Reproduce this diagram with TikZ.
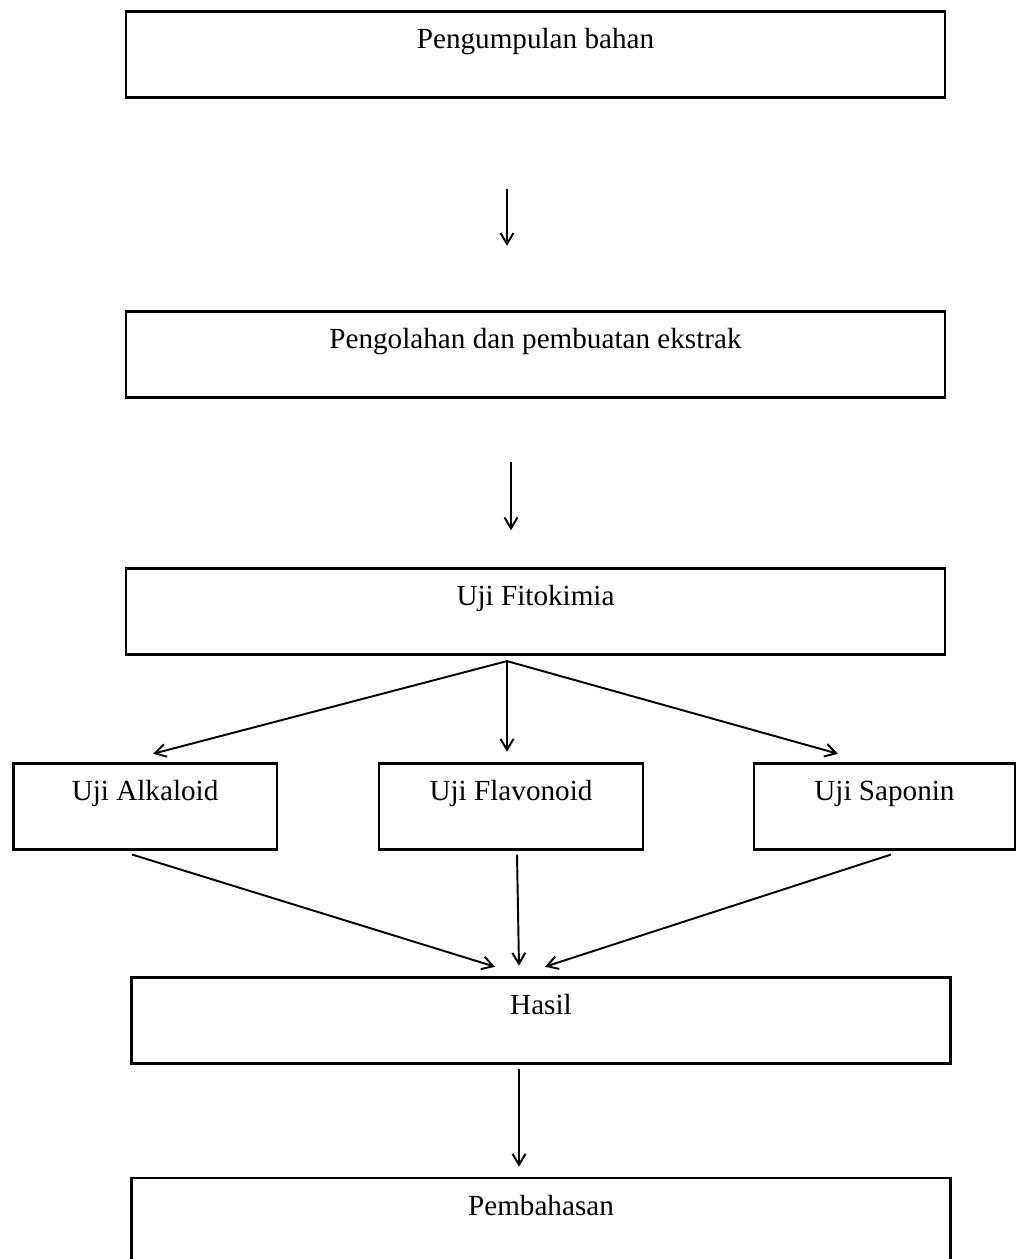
\documentclass[tikz,border=0pt]{standalone}
\usepackage{fontspec}
\setmainfont{Liberation Serif}
\usetikzlibrary{arrows.meta}

\tikzstyle{bigbox} = [rectangle, minimum width=16.38cm, inner xsep=0pt, inner ysep=0pt, text height=0.74cm, text depth=0.98cm, draw=black, line width=1.6pt, font=\fontsize{16.6}{20}\selectfont]
\tikzstyle{testbox} = [bigbox, minimum width=5.28cm]
\tikzstyle{arrow} = [-{Straight Barb[length=2.2mm,width=2.6mm]}, line width=1.1pt]

\begin{document}
\begin{tikzpicture}[x=0.02cm, y=-0.02cm, node distance=1cm]
	\useasboundingbox (0,0) rectangle (1019,1259);
	\node (box1) [bigbox] at (535.5,54.3) {Pengumpulan bahan};
	\node (box2) [bigbox, below of=box1, yshift=-5cm] {Pengolahan dan pembuatan ekstrak};
	\node (box3) [bigbox, below of=box2, yshift=-4.15cm] {Uji Fitokimia};
	\node (flavonoid) [testbox, below of=box3, yshift=-2.89cm, xshift=-0.49cm] {Uji Flavonoid};
	\node (alkaloid) [testbox, left of=flavonoid, xshift=-6.32cm] {Uji Alkaloid};
	\node (saponin) [testbox, right of=flavonoid, xshift=6.47cm, minimum width=5.22cm] {Uji Saponin};
	\node (hasil) [bigbox, below of=flavonoid, yshift=-3.28cm, xshift=0.6cm] {Hasil};
	\node (bahas) [bigbox, below of=hasil, yshift=-3.02cm] {Pembahasan};
	\coordinate (fan) at ([xshift=-0.57cm, yshift=-0.1cm]box3.south);
	
	\draw [arrow] ([xshift=-0.57cm, yshift=-1.8cm]box1.south) -- ([xshift=-0.57cm, yshift=1.28cm]box2.north);
	\draw [arrow] ([xshift=-0.49cm, yshift=-1.26cm]box2.south) -- ([xshift=-0.49cm, yshift=0.74cm]box3.north);
	\draw [arrow] (fan) -- ([xshift=0.16cm, yshift=0.16cm]alkaloid.north);
	\draw [arrow] (fan) -- ([xshift=-0.08cm, yshift=0.2cm]flavonoid.north);
	\draw [arrow] (fan) -- ([xshift=-0.93cm, yshift=0.16cm]saponin.north);
	\draw [arrow] ([xshift=-0.26cm, yshift=-0.08cm]alkaloid.south) -- ([xshift=-0.92cm, yshift=0.18cm]hasil.north);
	\draw [arrow] ([xshift=0.12cm, yshift=-0.08cm]flavonoid.south) -- ([xshift=-0.44cm, yshift=0.2cm]hasil.north);
	\draw [arrow] ([xshift=0.13cm, yshift=-0.08cm]saponin.south) -- ([xshift=0.08cm, yshift=0.18cm]hasil.north);
	\draw [arrow] ([xshift=-0.44cm, yshift=-0.08cm]hasil.south) -- ([xshift=-0.44cm, yshift=0.2cm]bahas.north);
\end{tikzpicture}
\end{document}
